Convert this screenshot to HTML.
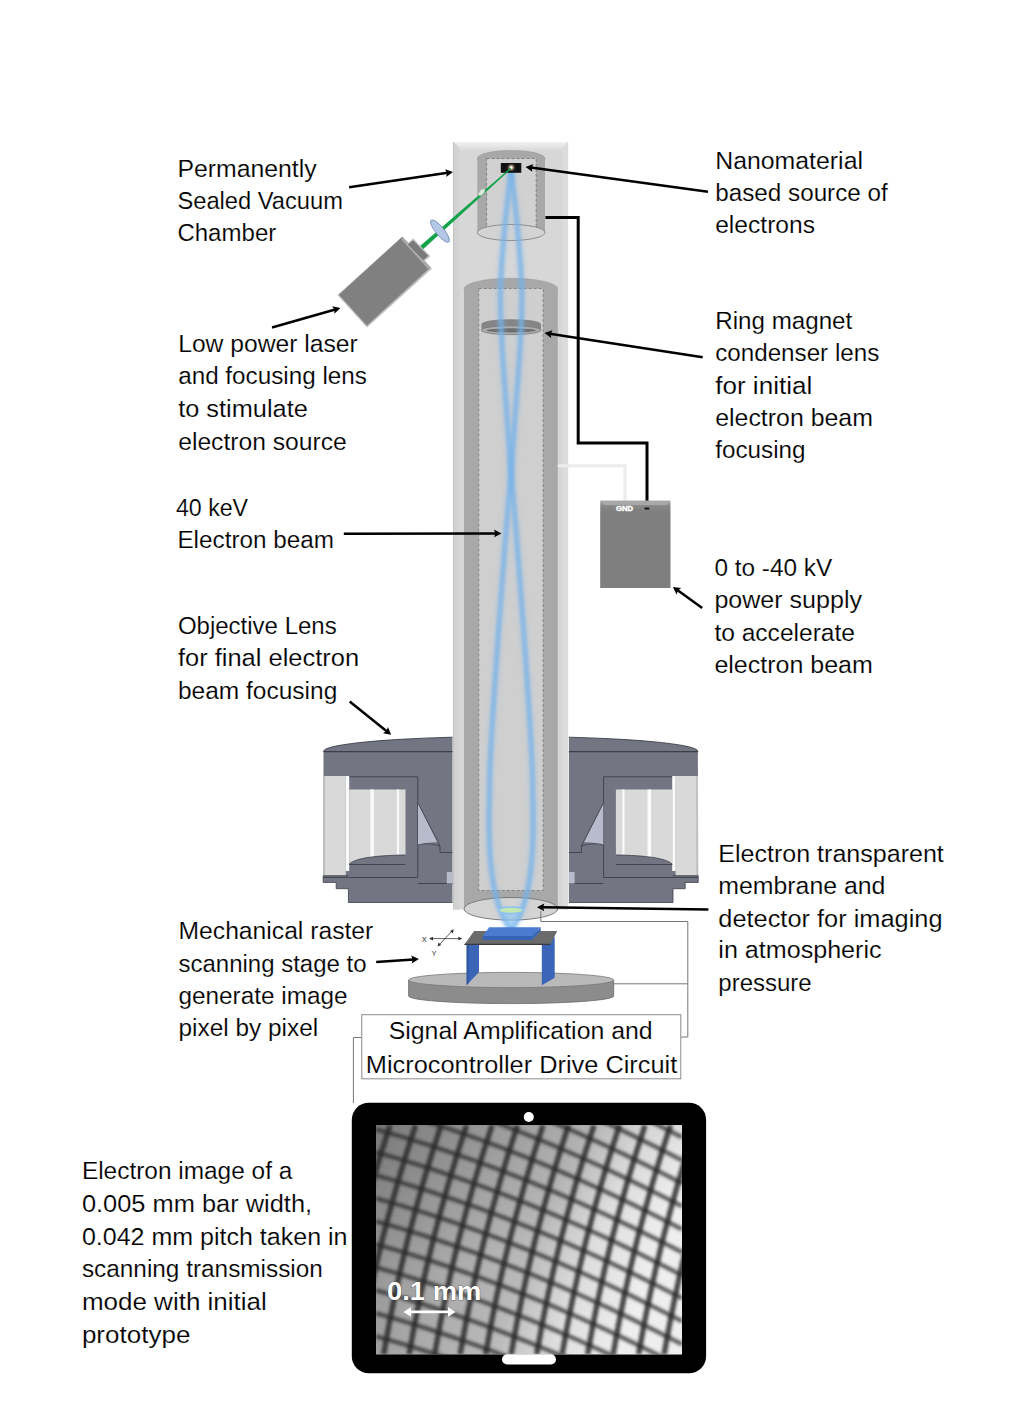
<!DOCTYPE html>
<html><head><meta charset="utf-8"><style>
html,body{margin:0;padding:0;background:#fff;width:1024px;height:1401px;overflow:hidden}
svg{display:block}
text{font-family:"Liberation Sans",sans-serif;font-size:23.0px;fill:#000;stroke:#fff;stroke-width:0.15px}
</style></head><body>
<svg width="1024" height="1401" viewBox="0 0 1024 1401">
<defs>
<filter id="blur1" x="-50%" y="-10%" width="200%" height="120%"><feGaussianBlur stdDeviation="1.2"/></filter>
<filter id="blur2" x="-50%" y="-50%" width="200%" height="200%"><feGaussianBlur stdDeviation="2.5"/></filter>
<filter id="blurS" x="-10%" y="-10%" width="120%" height="120%"><feGaussianBlur stdDeviation="1.6"/></filter>
<linearGradient id="colg" x1="0" x2="1" y1="0" y2="0">
<stop offset="0" stop-color="#c9c9c9"/><stop offset="0.08" stop-color="#d5d5d5"/><stop offset="0.92" stop-color="#d9d9d9"/><stop offset="1" stop-color="#e4e4e4"/>
</linearGradient>
<linearGradient id="psg" x1="0" x2="0" y1="0" y2="1">
<stop offset="0" stop-color="#b0b0b0"/><stop offset="0.06" stop-color="#888"/><stop offset="0.12" stop-color="#7f7f7f"/><stop offset="1" stop-color="#7f7f7f"/>
</linearGradient>
<linearGradient id="scrg" x1="0" x2="1" y1="0" y2="0.3">
<stop offset="0" stop-color="#8a8a8a"/><stop offset="0.4" stop-color="#ababab"/><stop offset="0.62" stop-color="#bababa"/><stop offset="0.8" stop-color="#dedede"/><stop offset="1" stop-color="#eeeeee"/>
</linearGradient>
<linearGradient id="scrv" x1="0" x2="0.5" y1="0" y2="1"><stop offset="0" stop-color="#000" stop-opacity="0.12"/><stop offset="0.6" stop-color="#000" stop-opacity="0"/></linearGradient>
<linearGradient id="coltop" x1="0" x2="0" y1="0" y2="1"><stop offset="0" stop-color="#f2f2f2"/><stop offset="1" stop-color="#dadada"/></linearGradient>
<clipPath id="scr"><rect x="376" y="1125" width="306" height="229.5"/></clipPath>
</defs><rect x="453.3" y="142" width="114.8" height="767.5" fill="#d7d7d7"/><polygon points="453.3,142 568.1,142 561,150 460.3,150" fill="url(#coltop)"/><polygon points="453.3,142 459.3,148 459.3,909.5 453.3,909.5" fill="#d2d2d2"/><polygon points="568.1,142 562,148 562,909.5 568.1,909.5" fill="#dcdcdc"/><line x1="453.6" y1="142" x2="453.6" y2="909.5" stroke="#bdbdbd" stroke-width="0.8"/><ellipse cx="511.15" cy="158.5" rx="33.85" ry="8" fill="#a8a8a8" stroke="#9a9a9a" stroke-width="0.6"/><rect x="477.3" y="158.5" width="67.7" height="74" fill="#a8a8a8"/><rect x="486.6" y="158.5" width="49.6" height="74" fill="#d1d1d1" stroke="#7a7a7a" stroke-width="0.9" stroke-dasharray="3,2"/><ellipse cx="511.15" cy="232.5" rx="33.85" ry="8" fill="#d3d3d3" stroke="#858585" stroke-width="0.9"/><ellipse cx="510.9" cy="289" rx="46.9" ry="10.7" fill="#a8a8a8" stroke="#9a9a9a" stroke-width="0.6"/><rect x="464" y="289" width="93.8" height="620" fill="#a8a8a8"/><rect x="478.7" y="288.5" width="64.5" height="602" fill="#cfcfcf" stroke="#7f7f7f" stroke-width="0.9" stroke-dasharray="3,2"/><ellipse cx="510.9" cy="908.8" rx="46.9" ry="11.3" fill="#d4d4d4" stroke="#707070" stroke-width="0.9"/><path d="M481.4,324 A29.8,4.8 0 0 1 541,324 L541,330 A29.8,4.6 0 0 1 481.4,330 Z" fill="#858585"/><ellipse cx="511.2" cy="330.2" rx="29.8" ry="4.4" fill="#adadad" stroke="#7a7a7a" stroke-width="0.8"/><ellipse cx="511.2" cy="330.4" rx="24.5" ry="2.1" fill="#6e6e6e"/><g><path d="M323.5,751.5 A187.2,15 0 0 1 452.5,737.2 L452.5,902.5 L348.4,902.5 L348.4,888.7 L336.2,888.7 L336.2,882.4 L323.2,882.4 Z" fill="#737682"/><path d="M323.5,751.5 A187.2,15 0 0 1 452.5,737.2" fill="none" stroke="#3c3f4a" stroke-width="0.9"/><line x1="323.5" y1="751.6" x2="452.5" y2="751.6" stroke="#3c3f4a" stroke-width="1.1"/><rect x="323.5" y="776" width="22.3" height="99.7" fill="#d9d9d9"/><rect x="323.5" y="776" width="1.6" height="99.7" fill="#bdbdbd"/><rect x="345.8" y="776" width="3.4" height="95" fill="#fafafa"/><path d="M349.2,789.5 L405.5,789.5 L405.5,855 C375,855.5 356,858 349.2,864 Z" fill="#d9d9d9"/><rect x="370.3" y="789.5" width="3.6" height="67.5" fill="#fafafa"/><rect x="396.9" y="789.5" width="2.2" height="65" fill="#fafafa"/><path d="M349.2,776.8 L417.8,776.8 L417.8,877.5 L323.2,877.5" fill="none" stroke="#3c3f4a" stroke-width="0.9"/><path d="M349.2,864 C356,858 375,855.5 405.5,855" fill="none" stroke="#3c3f4a" stroke-width="0.8"/><line x1="349.2" y1="864.5" x2="405.5" y2="864.5" stroke="#3c3f4a" stroke-width="0.9"/><line x1="323.2" y1="875.8" x2="348.4" y2="875.8" stroke="#3c3f4a" stroke-width="0.9"/><path d="M418,803 L437.5,842 Q428,842 418,845 Z" fill="#b7bbcb"/><path d="M418,803 L440,846 L440,852.5 L452.5,852.5" fill="none" stroke="#3c3f4a" stroke-width="0.9"/><path d="M418,845 Q428,842 440,846" fill="none" stroke="#3c3f4a" stroke-width="0.8"/><line x1="418" y1="883.5" x2="452.5" y2="883.5" stroke="#3c3f4a" stroke-width="0.9"/><rect x="446.8" y="872" width="5.7" height="11.5" fill="#b7bbcb"/><path d="M323.2,875.7 L323.2,882.4 L336.2,882.4 L336.2,888.7 L348.4,888.7 L348.4,902.5 L452.5,902.5" fill="none" stroke="#3c3f4a" stroke-width="0.8"/></g><g transform="translate(1021.4,0) scale(-1,1)"><path d="M323.5,751.5 A187.2,15 0 0 1 452.5,737.2 L452.5,902.5 L348.4,902.5 L348.4,888.7 L336.2,888.7 L336.2,882.4 L323.2,882.4 Z" fill="#737682"/><path d="M323.5,751.5 A187.2,15 0 0 1 452.5,737.2" fill="none" stroke="#3c3f4a" stroke-width="0.9"/><line x1="323.5" y1="751.6" x2="452.5" y2="751.6" stroke="#3c3f4a" stroke-width="1.1"/><rect x="323.5" y="776" width="22.3" height="99.7" fill="#d9d9d9"/><rect x="323.5" y="776" width="1.6" height="99.7" fill="#bdbdbd"/><rect x="345.8" y="776" width="3.4" height="95" fill="#fafafa"/><path d="M349.2,789.5 L405.5,789.5 L405.5,855 C375,855.5 356,858 349.2,864 Z" fill="#d9d9d9"/><rect x="370.3" y="789.5" width="3.6" height="67.5" fill="#fafafa"/><rect x="396.9" y="789.5" width="2.2" height="65" fill="#fafafa"/><path d="M349.2,776.8 L417.8,776.8 L417.8,877.5 L323.2,877.5" fill="none" stroke="#3c3f4a" stroke-width="0.9"/><path d="M349.2,864 C356,858 375,855.5 405.5,855" fill="none" stroke="#3c3f4a" stroke-width="0.8"/><line x1="349.2" y1="864.5" x2="405.5" y2="864.5" stroke="#3c3f4a" stroke-width="0.9"/><line x1="323.2" y1="875.8" x2="348.4" y2="875.8" stroke="#3c3f4a" stroke-width="0.9"/><path d="M418,803 L437.5,842 Q428,842 418,845 Z" fill="#b7bbcb"/><path d="M418,803 L440,846 L440,852.5 L452.5,852.5" fill="none" stroke="#3c3f4a" stroke-width="0.9"/><path d="M418,845 Q428,842 440,846" fill="none" stroke="#3c3f4a" stroke-width="0.8"/><line x1="418" y1="883.5" x2="452.5" y2="883.5" stroke="#3c3f4a" stroke-width="0.9"/><rect x="446.8" y="872" width="5.7" height="11.5" fill="#b7bbcb"/><path d="M323.2,875.7 L323.2,882.4 L336.2,882.4 L336.2,888.7 L348.4,888.7 L348.4,902.5 L452.5,902.5" fill="none" stroke="#3c3f4a" stroke-width="0.8"/></g><g><path d="M511.4,167.0 C493.0,320.0 501.0,310.0 510.8,472.5 C515.0,510.0 532.6,740.0 532.6,785.0 C532.6,810.0 539.0,895.0 511.0,930.0" fill="none" stroke="#72b1ec" stroke-width="8" stroke-opacity="0.25" filter="url(#blur2)"/><path d="M511.4,167.0 C493.0,320.0 501.0,310.0 510.8,472.5 C515.0,510.0 532.6,740.0 532.6,785.0 C532.6,810.0 539.0,895.0 511.0,930.0" fill="none" stroke="#72b1ec" stroke-width="5.2" stroke-opacity="0.62" filter="url(#blur1)"/><path d="M510.8,167.0 C529.2,320.0 521.2,310.0 511.4,472.5 C507.2,510.0 489.6,740.0 489.6,785.0 C489.6,810.0 483.2,895.0 511.2,930.0" fill="none" stroke="#72b1ec" stroke-width="8" stroke-opacity="0.25" filter="url(#blur2)"/><path d="M510.8,167.0 C529.2,320.0 521.2,310.0 511.4,472.5 C507.2,510.0 489.6,740.0 489.6,785.0 C489.6,810.0 483.2,895.0 511.2,930.0" fill="none" stroke="#72b1ec" stroke-width="5.2" stroke-opacity="0.62" filter="url(#blur1)"/></g><polygon points="501,908 521,908 512.5,933 509.5,933" fill="#8cc4f5" opacity="0.6" filter="url(#blur1)"/><ellipse cx="511" cy="910.3" rx="12.5" ry="3.3" fill="#c5e8b0" stroke="#8ec3ee" stroke-width="1.6"/><rect x="500.8" y="163" width="20.5" height="9.8" fill="#111"/><circle cx="511.2" cy="167.5" r="2.5" fill="#ffe9c0" filter="url(#blur1)"/><circle cx="511.2" cy="167.5" r="1.2" fill="#fff"/><polygon points="419.8,246.3 422.8,249.6 511.2,169 510.6,167.8" fill="#14a24a"/><ellipse cx="481.7" cy="192.2" rx="2.2" ry="4.2" fill="#dfe7df" stroke="#9bbf9f" stroke-width="0.7" transform="rotate(40 481.7 192.2)"/><ellipse cx="440" cy="231.1" rx="14" ry="4.2" fill="#b4c7e7" stroke="#6f86b8" stroke-width="0.8" transform="rotate(50.8 440 231.1)"/><polygon points="402.3,236.7 432,268.5 367,327.5 337.5,295" fill="#bdbdbd"/><polygon points="402.3,236.7 430.2,267.5 366.9,325.4 338.9,294.7" fill="#808080"/><polygon points="402.3,236.7 430.2,267.5 428.2,269.3 401.6,239.7" fill="#a9a9a9"/><polygon points="406.7,244.3 413.1,238.2 430.4,256.2 424.3,261.4" fill="#c4c4c4"/><polygon points="407.7,244.6 413.1,240.2 428.2,255.8 423.3,260.2" fill="#7a7a7a"/><polyline points="545.4,217.6 578.2,217.6 578.2,442.9 647,442.9 647,501" fill="none" stroke="#000" stroke-width="3"/><polyline points="557.8,465.7 625,465.7 625,501" fill="none" stroke="#ececec" stroke-width="3"/><rect x="600.2" y="500.7" width="70.3" height="87.3" fill="url(#psg)"/><polygon points="600.2,500.7 670.5,500.7 666,505 604.7,505" fill="#a8a8a8"/><text x="615.9" y="510.6" textLength="17.1" lengthAdjust="spacingAndGlyphs" style="font-size:7.8px;font-weight:bold;fill:#fff;stroke:#fff;stroke-width:0.45px">GND</text><rect x="644.5" y="507.6" width="4.8" height="1.9" fill="#111"/><line x1="349.1" y1="187.3" x2="447.7" y2="172.8" stroke="#000" stroke-width="2.5"/><polygon points="453.0,172.0 446.2,176.9 446.9,172.9 445.1,169.2" fill="#000"/><line x1="708.0" y1="191.8" x2="530.9" y2="167.6" stroke="#000" stroke-width="2.5"/><polygon points="525.5,166.9 533.4,164.0 531.6,167.7 532.3,171.8" fill="#000"/><line x1="272.0" y1="327.5" x2="335.2" y2="309.5" stroke="#000" stroke-width="2.5"/><polygon points="340.4,308.0 334.4,313.8 334.4,309.7 332.2,306.3" fill="#000"/><line x1="702.7" y1="357.3" x2="549.8" y2="333.8" stroke="#000" stroke-width="2.5"/><polygon points="544.5,333.0 552.4,330.3 550.6,333.9 551.2,338.0" fill="#000"/><line x1="343.8" y1="533.7" x2="496.1" y2="533.4" stroke="#000" stroke-width="2.5"/><polygon points="501.5,533.4 494.1,537.3 495.3,533.4 494.1,529.5" fill="#000"/><line x1="702.2" y1="608.0" x2="677.3" y2="590.1" stroke="#000" stroke-width="2.5"/><polygon points="672.9,586.9 681.2,588.1 677.9,590.5 676.6,594.4" fill="#000"/><line x1="349.7" y1="701.5" x2="387.0" y2="731.4" stroke="#000" stroke-width="2.5"/><polygon points="391.2,734.8 383.0,733.2 386.4,730.9 387.9,727.1" fill="#000"/><line x1="708.4" y1="909.4" x2="542.3" y2="907.3" stroke="#000" stroke-width="2.5"/><polygon points="536.9,907.2 544.3,903.4 543.1,907.3 544.2,911.2" fill="#000"/><line x1="376.2" y1="962.0" x2="413.5" y2="959.4" stroke="#000" stroke-width="2.5"/><polygon points="418.9,959.0 411.8,963.4 412.7,959.4 411.2,955.6" fill="#000"/><path d="M408.6,980 L408.6,996 A102.5,7.6 0 0 0 613.7,996 L613.7,980 Z" fill="#8c8c8c"/><path d="M408.6,980 L408.6,996 A102.5,7.6 0 0 0 613.7,996 L613.7,980" fill="none" stroke="#6a6a6a" stroke-width="0.8"/><ellipse cx="511.15" cy="980" rx="102.5" ry="7.6" fill="#b9b9b9" stroke="#777" stroke-width="0.8"/><polygon points="466.6,944 479,944 479,972 466.6,985.2" fill="#3b66b8"/><polygon points="541.8,944.4 554.7,936.9 554.7,977.7 541.8,985.2" fill="#3b66b8"/><polygon points="466.6,944 469,944 469,982.7 466.6,985.2" fill="#2f579f" opacity="0.8"/><polygon points="474.1,931 557.2,931 550.4,944.4 464.4,944.4" fill="#6b6b6b"/><line x1="464.4" y1="944.4" x2="550.4" y2="944.4" stroke="#3a3a3a" stroke-width="1.4"/><polygon points="489.2,927.2 540.7,927.2 532.1,936 482.7,936" fill="#4a7bd0"/><polygon points="482.7,936 532.1,936 532.1,940 482.7,940" fill="#3763b6"/><polygon points="540.7,927.2 540.7,931 532.1,940 532.1,936" fill="#3a68bb"/><line x1="430" y1="938.6" x2="461" y2="938.6" stroke="#333" stroke-width="0.8"/><polygon points="429,938.6 433,936.8 433,940.4" fill="#333"/><polygon points="462.3,938.6 458.3,936.8 458.3,940.4" fill="#333"/><line x1="438.3" y1="945.8" x2="453" y2="930" stroke="#333" stroke-width="0.8"/><polygon points="437.6,946.5 438.5,942.4 441.2,944.9" fill="#333"/><polygon points="453.7,929.3 452.8,933.4 450.1,930.9" fill="#333"/><text x="421.8" y="942" style="font-size:7.5px;fill:#222;stroke:none">X</text><text x="431.5" y="955.5" style="font-size:7.5px;fill:#333;stroke:none">Y</text><polyline points="540.8,911 540.8,921.5 687.8,921.5 687.8,1037 681,1037" fill="none" stroke="#777" stroke-width="1"/><line x1="613.7" y1="983.8" x2="687.8" y2="983.8" stroke="#777" stroke-width="1"/><polyline points="361.8,1037.5 353.4,1037.5 353.4,1103" fill="none" stroke="#777" stroke-width="1"/><rect x="361.8" y="1014.7" width="319" height="64.1" fill="#fff" stroke="#8a8a8a" stroke-width="1"/><rect x="351.8" y="1102.8" width="354.3" height="270.4" rx="17" ry="17" fill="#000"/><rect x="376" y="1125.2" width="306" height="229.2" fill="url(#scrg)"/><g clip-path="url(#scr)"><rect x="376" y="1125.2" width="306" height="229.2" fill="url(#scrg)"/><rect x="376" y="1125.2" width="306" height="229.2" fill="url(#scrv)"/><g fill="none" stroke="#2a2a2a" stroke-width="5.4" stroke-opacity="0.85" filter="url(#blurS)"><polyline points="288.0,1125.2 278.8,1153.9 270.2,1182.5 262.2,1211.2 254.7,1239.8 247.8,1268.5 241.5,1297.1 235.8,1325.8 230.6,1354.4"/><polyline points="313.5,1125.2 304.3,1153.9 295.7,1182.5 287.7,1211.2 280.2,1239.8 273.3,1268.5 267.0,1297.1 261.3,1325.8 256.1,1354.4"/><polyline points="339.0,1125.2 329.8,1153.9 321.2,1182.5 313.2,1211.2 305.7,1239.8 298.8,1268.5 292.5,1297.1 286.8,1325.8 281.6,1354.4"/><polyline points="364.5,1125.2 355.3,1153.9 346.7,1182.5 338.7,1211.2 331.2,1239.8 324.3,1268.5 318.0,1297.1 312.3,1325.8 307.1,1354.4"/><polyline points="390.0,1125.2 380.8,1153.9 372.2,1182.5 364.2,1211.2 356.7,1239.8 349.8,1268.5 343.5,1297.1 337.8,1325.8 332.6,1354.4"/><polyline points="415.5,1125.2 406.3,1153.9 397.7,1182.5 389.7,1211.2 382.2,1239.8 375.3,1268.5 369.0,1297.1 363.3,1325.8 358.1,1354.4"/><polyline points="441.0,1125.2 431.8,1153.9 423.2,1182.5 415.2,1211.2 407.7,1239.8 400.8,1268.5 394.5,1297.1 388.8,1325.8 383.6,1354.4"/><polyline points="466.5,1125.2 457.3,1153.9 448.7,1182.5 440.7,1211.2 433.2,1239.8 426.3,1268.5 420.0,1297.1 414.3,1325.8 409.1,1354.4"/><polyline points="492.0,1125.2 482.8,1153.9 474.2,1182.5 466.2,1211.2 458.7,1239.8 451.8,1268.5 445.5,1297.1 439.8,1325.8 434.6,1354.4"/><polyline points="517.5,1125.2 508.3,1153.9 499.7,1182.5 491.7,1211.2 484.2,1239.8 477.3,1268.5 471.0,1297.1 465.3,1325.8 460.1,1354.4"/><polyline points="543.0,1125.2 533.8,1153.9 525.2,1182.5 517.2,1211.2 509.7,1239.8 502.8,1268.5 496.5,1297.1 490.8,1325.8 485.6,1354.4"/><polyline points="568.5,1125.2 559.3,1153.9 550.7,1182.5 542.7,1211.2 535.2,1239.8 528.3,1268.5 522.0,1297.1 516.3,1325.8 511.1,1354.4"/><polyline points="594.0,1125.2 584.8,1153.9 576.2,1182.5 568.2,1211.2 560.7,1239.8 553.8,1268.5 547.5,1297.1 541.8,1325.8 536.6,1354.4"/><polyline points="619.5,1125.2 610.3,1153.9 601.7,1182.5 593.7,1211.2 586.2,1239.8 579.3,1268.5 573.0,1297.1 567.3,1325.8 562.1,1354.4"/><polyline points="645.0,1125.2 635.8,1153.9 627.2,1182.5 619.2,1211.2 611.7,1239.8 604.8,1268.5 598.5,1297.1 592.8,1325.8 587.6,1354.4"/><polyline points="670.5,1125.2 661.3,1153.9 652.7,1182.5 644.7,1211.2 637.2,1239.8 630.3,1268.5 624.0,1297.1 618.3,1325.8 613.1,1354.4"/><polyline points="696.0,1125.2 686.8,1153.9 678.2,1182.5 670.2,1211.2 662.7,1239.8 655.8,1268.5 649.5,1297.1 643.8,1325.8 638.6,1354.4"/><polyline points="721.5,1125.2 712.3,1153.9 703.7,1182.5 695.7,1211.2 688.2,1239.8 681.3,1268.5 675.0,1297.1 669.3,1325.8 664.1,1354.4"/><polyline points="747.0,1125.2 737.8,1153.9 729.2,1182.5 721.2,1211.2 713.7,1239.8 706.8,1268.5 700.5,1297.1 694.8,1325.8 689.6,1354.4"/><polyline points="772.5,1125.2 763.3,1153.9 754.7,1182.5 746.7,1211.2 739.2,1239.8 732.3,1268.5 726.0,1297.1 720.3,1325.8 715.1,1354.4"/></g><g fill="none" stroke="#2a2a2a" stroke-width="4.6" stroke-opacity="0.7" filter="url(#blurS)"><polyline points="376.0,761.2 401.5,768.6 427.0,776.5 452.5,785.0 478.0,793.9 503.5,803.4 529.0,813.4 554.5,823.9 580.0,835.0 605.5,846.5 631.0,858.6 656.5,871.2 682.0,884.3"/><polyline points="376.0,784.2 401.5,791.6 427.0,799.5 452.5,808.0 478.0,816.9 503.5,826.4 529.0,836.4 554.5,846.9 580.0,858.0 605.5,869.5 631.0,881.6 656.5,894.2 682.0,907.3"/><polyline points="376.0,807.2 401.5,814.6 427.0,822.5 452.5,831.0 478.0,839.9 503.5,849.4 529.0,859.4 554.5,869.9 580.0,881.0 605.5,892.5 631.0,904.6 656.5,917.2 682.0,930.3"/><polyline points="376.0,830.2 401.5,837.6 427.0,845.5 452.5,854.0 478.0,862.9 503.5,872.4 529.0,882.4 554.5,892.9 580.0,904.0 605.5,915.5 631.0,927.6 656.5,940.2 682.0,953.3"/><polyline points="376.0,853.2 401.5,860.6 427.0,868.5 452.5,877.0 478.0,885.9 503.5,895.4 529.0,905.4 554.5,915.9 580.0,927.0 605.5,938.5 631.0,950.6 656.5,963.2 682.0,976.3"/><polyline points="376.0,876.2 401.5,883.6 427.0,891.5 452.5,900.0 478.0,908.9 503.5,918.4 529.0,928.4 554.5,938.9 580.0,950.0 605.5,961.5 631.0,973.6 656.5,986.2 682.0,999.3"/><polyline points="376.0,899.2 401.5,906.6 427.0,914.5 452.5,923.0 478.0,931.9 503.5,941.4 529.0,951.4 554.5,961.9 580.0,973.0 605.5,984.5 631.0,996.6 656.5,1009.2 682.0,1022.3"/><polyline points="376.0,922.2 401.5,929.6 427.0,937.5 452.5,946.0 478.0,954.9 503.5,964.4 529.0,974.4 554.5,984.9 580.0,996.0 605.5,1007.5 631.0,1019.6 656.5,1032.2 682.0,1045.3"/><polyline points="376.0,945.2 401.5,952.6 427.0,960.5 452.5,969.0 478.0,977.9 503.5,987.4 529.0,997.4 554.5,1007.9 580.0,1019.0 605.5,1030.5 631.0,1042.6 656.5,1055.2 682.0,1068.3"/><polyline points="376.0,968.2 401.5,975.6 427.0,983.5 452.5,992.0 478.0,1000.9 503.5,1010.4 529.0,1020.4 554.5,1030.9 580.0,1042.0 605.5,1053.5 631.0,1065.6 656.5,1078.2 682.0,1091.3"/><polyline points="376.0,991.2 401.5,998.6 427.0,1006.5 452.5,1015.0 478.0,1023.9 503.5,1033.4 529.0,1043.4 554.5,1053.9 580.0,1065.0 605.5,1076.5 631.0,1088.6 656.5,1101.2 682.0,1114.3"/><polyline points="376.0,1014.2 401.5,1021.6 427.0,1029.5 452.5,1038.0 478.0,1046.9 503.5,1056.4 529.0,1066.4 554.5,1076.9 580.0,1088.0 605.5,1099.5 631.0,1111.6 656.5,1124.2 682.0,1137.3"/><polyline points="376.0,1037.2 401.5,1044.6 427.0,1052.5 452.5,1061.0 478.0,1069.9 503.5,1079.4 529.0,1089.4 554.5,1099.9 580.0,1111.0 605.5,1122.5 631.0,1134.6 656.5,1147.2 682.0,1160.3"/><polyline points="376.0,1060.2 401.5,1067.6 427.0,1075.5 452.5,1084.0 478.0,1092.9 503.5,1102.4 529.0,1112.4 554.5,1122.9 580.0,1134.0 605.5,1145.5 631.0,1157.6 656.5,1170.2 682.0,1183.3"/><polyline points="376.0,1083.2 401.5,1090.6 427.0,1098.5 452.5,1107.0 478.0,1115.9 503.5,1125.4 529.0,1135.4 554.5,1145.9 580.0,1157.0 605.5,1168.5 631.0,1180.6 656.5,1193.2 682.0,1206.3"/><polyline points="376.0,1106.2 401.5,1113.6 427.0,1121.5 452.5,1130.0 478.0,1138.9 503.5,1148.4 529.0,1158.4 554.5,1168.9 580.0,1180.0 605.5,1191.5 631.0,1203.6 656.5,1216.2 682.0,1229.3"/><polyline points="376.0,1129.2 401.5,1136.6 427.0,1144.5 452.5,1153.0 478.0,1161.9 503.5,1171.4 529.0,1181.4 554.5,1191.9 580.0,1203.0 605.5,1214.5 631.0,1226.6 656.5,1239.2 682.0,1252.3"/><polyline points="376.0,1152.2 401.5,1159.6 427.0,1167.5 452.5,1176.0 478.0,1184.9 503.5,1194.4 529.0,1204.4 554.5,1214.9 580.0,1226.0 605.5,1237.5 631.0,1249.6 656.5,1262.2 682.0,1275.3"/><polyline points="376.0,1175.2 401.5,1182.6 427.0,1190.5 452.5,1199.0 478.0,1207.9 503.5,1217.4 529.0,1227.4 554.5,1237.9 580.0,1249.0 605.5,1260.5 631.0,1272.6 656.5,1285.2 682.0,1298.3"/><polyline points="376.0,1198.2 401.5,1205.6 427.0,1213.5 452.5,1222.0 478.0,1230.9 503.5,1240.4 529.0,1250.4 554.5,1260.9 580.0,1272.0 605.5,1283.5 631.0,1295.6 656.5,1308.2 682.0,1321.3"/><polyline points="376.0,1221.2 401.5,1228.6 427.0,1236.5 452.5,1245.0 478.0,1253.9 503.5,1263.4 529.0,1273.4 554.5,1283.9 580.0,1295.0 605.5,1306.5 631.0,1318.6 656.5,1331.2 682.0,1344.3"/><polyline points="376.0,1244.2 401.5,1251.6 427.0,1259.5 452.5,1268.0 478.0,1276.9 503.5,1286.4 529.0,1296.4 554.5,1306.9 580.0,1318.0 605.5,1329.5 631.0,1341.6 656.5,1354.2 682.0,1367.3"/><polyline points="376.0,1267.2 401.5,1274.6 427.0,1282.5 452.5,1291.0 478.0,1299.9 503.5,1309.4 529.0,1319.4 554.5,1329.9 580.0,1341.0 605.5,1352.5 631.0,1364.6 656.5,1377.2 682.0,1390.3"/><polyline points="376.0,1290.2 401.5,1297.6 427.0,1305.5 452.5,1314.0 478.0,1322.9 503.5,1332.4 529.0,1342.4 554.5,1352.9 580.0,1364.0 605.5,1375.5 631.0,1387.6 656.5,1400.2 682.0,1413.3"/><polyline points="376.0,1313.2 401.5,1320.6 427.0,1328.5 452.5,1337.0 478.0,1345.9 503.5,1355.4 529.0,1365.4 554.5,1375.9 580.0,1387.0 605.5,1398.5 631.0,1410.6 656.5,1423.2 682.0,1436.3"/><polyline points="376.0,1336.2 401.5,1343.6 427.0,1351.5 452.5,1360.0 478.0,1368.9 503.5,1378.4 529.0,1388.4 554.5,1398.9 580.0,1410.0 605.5,1421.5 631.0,1433.6 656.5,1446.2 682.0,1459.3"/><polyline points="376.0,1359.2 401.5,1366.6 427.0,1374.5 452.5,1383.0 478.0,1391.9 503.5,1401.4 529.0,1411.4 554.5,1421.9 580.0,1433.0 605.5,1444.5 631.0,1456.6 656.5,1469.2 682.0,1482.3"/><polyline points="376.0,1382.2 401.5,1389.6 427.0,1397.5 452.5,1406.0 478.0,1414.9 503.5,1424.4 529.0,1434.4 554.5,1444.9 580.0,1456.0 605.5,1467.5 631.0,1479.6 656.5,1492.2 682.0,1505.3"/><polyline points="376.0,1405.2 401.5,1412.6 427.0,1420.5 452.5,1429.0 478.0,1437.9 503.5,1447.4 529.0,1457.4 554.5,1467.9 580.0,1479.0 605.5,1490.5 631.0,1502.6 656.5,1515.2 682.0,1528.3"/><polyline points="376.0,1428.2 401.5,1435.6 427.0,1443.5 452.5,1452.0 478.0,1460.9 503.5,1470.4 529.0,1480.4 554.5,1490.9 580.0,1502.0 605.5,1513.5 631.0,1525.6 656.5,1538.2 682.0,1551.3"/></g></g><circle cx="528.8" cy="1117" r="5" fill="#fff"/><rect x="502" y="1354.3" width="54" height="10.2" rx="5.1" fill="#fff"/><text x="387" y="1299.6" style="font-size:25px;font-weight:bold;fill:#fff;stroke:#333;stroke-width:0.6px;paint-order:stroke" textLength="94.5" lengthAdjust="spacingAndGlyphs">0.1 mm</text><line x1="408" y1="1311.9" x2="451" y2="1311.9" stroke="#fff" stroke-width="2.6"/><polygon points="403.5,1311.9 411,1307 411,1316.8" fill="#fff"/><polygon points="455.5,1311.9 448,1307 448,1316.8" fill="#fff"/>
<g>
<text x="177.4" y="176.7" textLength="139.3" lengthAdjust="spacingAndGlyphs">Permanently</text>
<text x="177.4" y="208.9" textLength="165.6" lengthAdjust="spacingAndGlyphs">Sealed Vacuum</text>
<text x="177.4" y="241.4" textLength="98.9" lengthAdjust="spacingAndGlyphs">Chamber</text>
<text x="715.2" y="168.7" textLength="147.8" lengthAdjust="spacingAndGlyphs">Nanomaterial</text>
<text x="715.2" y="200.5" textLength="172.6" lengthAdjust="spacingAndGlyphs">based source of</text>
<text x="715.2" y="232.8" textLength="99.8" lengthAdjust="spacingAndGlyphs">electrons</text>
<text x="178.2" y="351.8" textLength="179.5" lengthAdjust="spacingAndGlyphs">Low power laser</text>
<text x="178.2" y="384.0" textLength="188.7" lengthAdjust="spacingAndGlyphs">and focusing lens</text>
<text x="178.2" y="416.8" textLength="129.6" lengthAdjust="spacingAndGlyphs">to stimulate</text>
<text x="178.2" y="449.6" textLength="168.6" lengthAdjust="spacingAndGlyphs">electron source</text>
<text x="715.2" y="328.7" textLength="137.1" lengthAdjust="spacingAndGlyphs">Ring magnet</text>
<text x="715.2" y="360.9" textLength="164.1" lengthAdjust="spacingAndGlyphs">condenser lens</text>
<text x="715.2" y="393.8" textLength="97.1" lengthAdjust="spacingAndGlyphs">for initial</text>
<text x="715.2" y="426.0" textLength="157.7" lengthAdjust="spacingAndGlyphs">electron beam</text>
<text x="715.2" y="458.2" textLength="90.3" lengthAdjust="spacingAndGlyphs">focusing</text>
<text x="175.9" y="515.5" textLength="72.2" lengthAdjust="spacingAndGlyphs">40 keV</text>
<text x="177.4" y="548.0" textLength="156.6" lengthAdjust="spacingAndGlyphs">Electron beam</text>
<text x="714.4" y="575.6" textLength="117.9" lengthAdjust="spacingAndGlyphs">0 to -40 kV</text>
<text x="714.4" y="608.0" textLength="147.6" lengthAdjust="spacingAndGlyphs">power supply</text>
<text x="714.4" y="640.8" textLength="140.6" lengthAdjust="spacingAndGlyphs">to accelerate</text>
<text x="714.4" y="673.1" textLength="158.4" lengthAdjust="spacingAndGlyphs">electron beam</text>
<text x="177.9" y="633.7" textLength="158.8" lengthAdjust="spacingAndGlyphs">Objective Lens</text>
<text x="177.9" y="666.3" textLength="181.2" lengthAdjust="spacingAndGlyphs">for final electron</text>
<text x="177.9" y="698.8" textLength="159.4" lengthAdjust="spacingAndGlyphs">beam focusing</text>
<text x="718.3" y="861.7" textLength="225.5" lengthAdjust="spacingAndGlyphs">Electron transparent</text>
<text x="718.3" y="893.5" textLength="167.1" lengthAdjust="spacingAndGlyphs">membrane and</text>
<text x="718.3" y="926.5" textLength="224.2" lengthAdjust="spacingAndGlyphs">detector for imaging</text>
<text x="718.3" y="958.2" textLength="163.3" lengthAdjust="spacingAndGlyphs">in atmospheric</text>
<text x="718.3" y="991.2" textLength="93.4" lengthAdjust="spacingAndGlyphs">pressure</text>
<text x="178.5" y="939.2" textLength="194.8" lengthAdjust="spacingAndGlyphs">Mechanical raster</text>
<text x="178.5" y="971.8" textLength="188.0" lengthAdjust="spacingAndGlyphs">scanning stage to</text>
<text x="178.5" y="1003.9" textLength="169.0" lengthAdjust="spacingAndGlyphs">generate image</text>
<text x="178.5" y="1035.8" textLength="139.7" lengthAdjust="spacingAndGlyphs">pixel by pixel</text>
<text x="388.7" y="1039.3" textLength="264.0" lengthAdjust="spacingAndGlyphs">Signal Amplification and</text>
<text x="365.8" y="1072.7" textLength="311.5" lengthAdjust="spacingAndGlyphs">Microcontroller Drive Circuit</text>
<text x="81.9" y="1179.2" textLength="210.4" lengthAdjust="spacingAndGlyphs">Electron image of a</text>
<text x="81.9" y="1212.3" textLength="230.2" lengthAdjust="spacingAndGlyphs">0.005 mm bar width,</text>
<text x="81.9" y="1244.9" textLength="265.6" lengthAdjust="spacingAndGlyphs">0.042 mm pitch taken in</text>
<text x="81.9" y="1277.4" textLength="241.0" lengthAdjust="spacingAndGlyphs">scanning transmission</text>
<text x="81.9" y="1310.0" textLength="184.9" lengthAdjust="spacingAndGlyphs">mode with initial</text>
<text x="81.9" y="1342.6" textLength="108.5" lengthAdjust="spacingAndGlyphs">prototype</text>
</g>
</svg>
</body></html>
